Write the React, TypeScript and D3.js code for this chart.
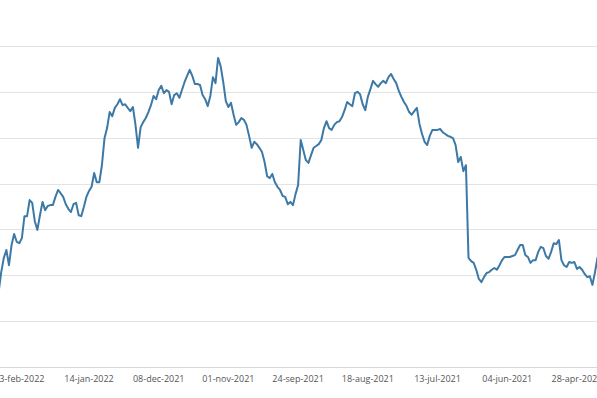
import { useMemo } from "react";
import * as d3 from "d3";

// closing prices, newest first (chart reads right-to-left in time)
const prices = [
  16.4, 20.7, 23.8, 25.5, 22.2, 26.6, 29.0, 27.3, 27.0, 28.1,
  32.9, 32.9, 36.4, 35.8, 31.8, 29.9, 33.1, 36.0, 34.2, 35.1,
  35.3, 35.3, 37.1, 38.6, 37.9, 37.1, 35.5, 34.5, 33.8, 35.5,
  35.8, 33.1, 32.9, 34.9, 37.1, 38.4, 39.3, 42.3, 40.3, 40.3,
  44.0, 49.9, 52.1, 55.6, 54.7, 56.5, 57.3, 58.4, 57.1, 57.3,
  56.5, 55.8, 56.7, 52.8, 47.8, 52.3, 53.4, 54.3, 55.6, 57.1,
  59.1, 58.4, 60.4, 61.3, 59.7, 60.4, 60.0, 57.3, 59.3, 59.7,
  58.7, 60.4, 62.1, 63.5, 64.8, 63.5, 61.7, 61.7, 61.5, 59.3,
  58.4, 56.9, 59.1, 63.2, 61.9, 67.4, 65.6, 62.1, 58.0, 56.7,
  57.6, 55.0, 52.8, 53.4, 54.3, 53.9, 52.8, 50.4, 47.8, 49.1,
  48.6, 47.8, 46.9, 44.7, 41.6, 41.2, 42.1, 40.3, 39.3, 38.6,
  37.3, 37.1, 35.5, 36.0, 35.3, 37.7, 39.7, 49.5, 47.3, 45.1,
  44.5, 46.2, 47.8, 48.2, 48.6, 49.5, 52.1, 53.6, 52.1, 51.7,
  52.8, 53.4, 53.6, 54.5, 56.0, 57.8, 57.3, 56.9, 59.7, 60.0,
  59.5, 57.3, 56.0, 58.9, 60.6, 62.4, 61.7, 61.1, 61.9, 62.4,
  61.9, 63.2, 63.9, 62.8, 61.9, 60.2, 58.9, 57.8, 56.9, 55.6,
  55.0, 55.8, 56.5, 53.0, 50.8, 49.1, 48.4, 50.4, 51.7, 51.7,
  51.7, 51.9, 51.2, 50.8, 50.4, 50.2, 49.9, 48.4, 44.7, 45.8,
  42.7, 44.0, 23.8, 23.1, 22.7, 21.2, 19.2, 18.5, 19.6, 20.5,
  20.7, 21.2, 21.6, 21.2, 22.2, 23.3, 24.0, 24.0, 24.0, 24.2,
  24.4, 25.5, 26.6, 26.6, 24.4, 24.0, 22.7, 23.3, 23.3, 25.1,
  26.2, 25.9, 24.2, 23.6, 25.1, 27.0, 26.8, 27.7, 23.3, 22.2,
  21.8, 22.9, 22.7, 22.9, 21.4, 21.8, 21.2, 20.3, 19.6, 19.8,
  17.9, 20.7, 24.0,
];

const tickIndex = [8, 35, 62, 89, 116, 143, 170, 197, 224];
const tickLabels = [
  "03-feb-2022", "14-jan-2022", "08-dec-2021", "01-nov-2021", "24-sep-2021",
  "18-aug-2021", "13-jul-2021", "04-jun-2021", "28-apr-2021",
];
const gridValues = [0, 10, 20, 30, 40, 50, 60, 70];

const W = 597;
const H = 398;

export default function App() {
  const x = d3.scaleLinear().domain([0, prices.length - 1]).range([-1.35, 597.6]);
  const y = d3.scaleLinear().domain([0, 70]).range([367, 46]);

  const path = useMemo(
    () =>
      d3
        .line<number>()
        .x((_d, i) => x(i))
        .y((d) => y(d))(prices) ?? "",
    []
  );

  return (
    <svg
      width={W}
      height={H}
      style={{ position: "fixed", left: 0, top: 0, background: "#fff" }}
    >
      {gridValues.map((v) => (
        <line
          key={v}
          x1={0}
          x2={W}
          y1={Math.round(y(v)) + 0.5}
          y2={Math.round(y(v)) + 0.5}
          stroke={v === 0 ? "#d8d8d8" : "#e3e3e3"}
          strokeWidth={1}
        />
      ))}
      <path d={path} fill="none" stroke="#3d79a6" strokeWidth={2} strokeLinejoin="round" />
      {tickIndex.map((t, i) => (
        <text
          key={t}
          x={x(t)}
          y={382}
          textAnchor="middle"
          fontFamily="'Open Sans', sans-serif"
          fontSize={9}
          fill="#555"
        >
          {tickLabels[i]}
        </text>
      ))}
    </svg>
  );
}
